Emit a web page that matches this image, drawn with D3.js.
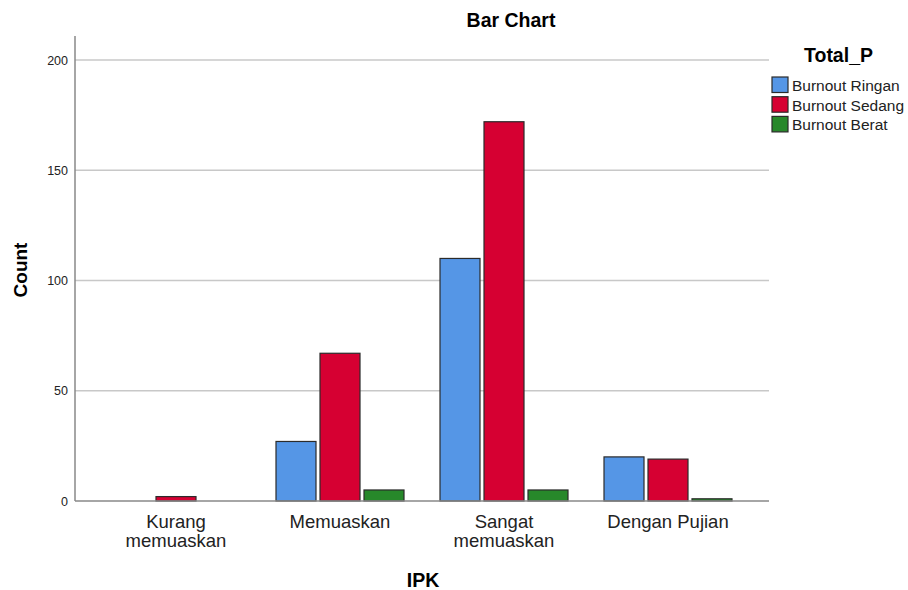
<!DOCTYPE html>
<html><head><meta charset="utf-8">
<script src="https://cdn.jsdelivr.net/npm/d3@7"></script>
<style>body{margin:0;background:#fff;} text{font-family:"Liberation Sans",Arial,sans-serif;}</style>
</head><body>
<svg id="c" width="908" height="590"></svg>
<script>
const categories = [["Kurang","memuaskan"],["Memuaskan"],["Sangat","memuaskan"],["Dengan Pujian"]];
const seriesNames = ["Burnout Ringan","Burnout Sedang","Burnout Berat"];
const ringan = [0, 27, 110, 20];
const sedang = [2, 67, 172, 19];
const berat = [0, 5, 5, 1];
const yTicks = [0, 50, 100, 150, 200];
const colors = ["#5596e6","#d60032","#27882a"];

const svg = d3.select("#c");
const x = d3.scaleBand().domain(d3.range(categories.length)).range([94, 750]);
const y = d3.scaleLinear().domain([0, 200]).range([501, 60]);
const barW = 40;

// gridlines
svg.append("g").selectAll("line").data(yTicks.filter(d=>d>0)).join("line")
  .attr("x1", 75).attr("x2", 769).attr("y1", d=>y(d)).attr("y2", d=>y(d))
  .attr("stroke", "#c8c8c8").attr("stroke-width", 1.3);

// y axis
const yAxis = d3.axisLeft(y).tickValues(yTicks).tickSize(0).tickPadding(7);
const ga = svg.append("g").attr("transform","translate(75,0)").call(yAxis);
ga.select(".domain").remove();
ga.selectAll("text").attr("font-size", 12.5).attr("fill", "#222").attr("font-family","Liberation Sans, Arial, sans-serif");
svg.append("line").attr("x1",75).attr("x2",75).attr("y1",36).attr("y2",501).attr("stroke","#888").attr("stroke-width",1.5);

// bars
const series = [ringan, sedang, berat];
const groups = svg.append("g");
series.forEach((vals, si) => {
  groups.append("g").selectAll("rect").data(vals.map((v,i)=>({v,i}))).join("rect")
    .filter(d => d.v > 0)
    .attr("x", d => x(d.i) + (x.bandwidth()-128)/2 + si*44)
    .attr("width", barW)
    .attr("y", d => y(d.v))
    .attr("height", d => y(0) - y(d.v))
    .attr("fill", colors[si])
    .attr("stroke", "#2b2b2b").attr("stroke-width", 1.2);
});

// baseline
svg.append("line").attr("x1",75).attr("x2",769).attr("y1",501).attr("y2",501).attr("stroke","#888").attr("stroke-width",1.5);

// category labels
const xl = svg.append("g");
categories.forEach((lines, i) => {
  const t = xl.append("text").attr("x", x(i)+x.bandwidth()/2).attr("y", 528)
    .attr("text-anchor","middle").attr("font-size", 18.5).attr("fill","#222");
  lines.forEach((l, j) => t.append("tspan").attr("x", x(i)+x.bandwidth()/2).attr("dy", j===0?0:19).text(l));
});

// titles
svg.append("text").attr("x", 511).attr("y", 26.5).attr("text-anchor","middle")
  .attr("font-size", 19.5).attr("font-weight","bold").text("Bar Chart");
svg.append("text").attr("x", 423).attr("y", 586.5).attr("text-anchor","middle")
  .attr("font-size", 19.5).attr("font-weight","bold").text("IPK");
svg.append("text").attr("transform","translate(26.5,270) rotate(-90)").attr("text-anchor","middle")
  .attr("font-size", 19).attr("font-weight","bold").text("Count");

// legend
svg.append("text").attr("x", 838.5).attr("y", 61.5).attr("text-anchor","middle")
  .attr("font-size", 19.5).attr("font-weight","bold").text("Total_P");
const lg = svg.append("g").selectAll("g").data(seriesNames).join("g")
  .attr("transform", (d,i)=>`translate(772,${77 + i*19.7})`);
lg.append("rect").attr("width",16).attr("height",15.5).attr("fill",(d,i)=>colors[i])
  .attr("stroke","#2b2b2b").attr("stroke-width",1.2);
lg.append("text").attr("x",20).attr("y",14).attr("font-size",15.5).attr("fill","#222").text(d=>d);
</script>
</body></html>
